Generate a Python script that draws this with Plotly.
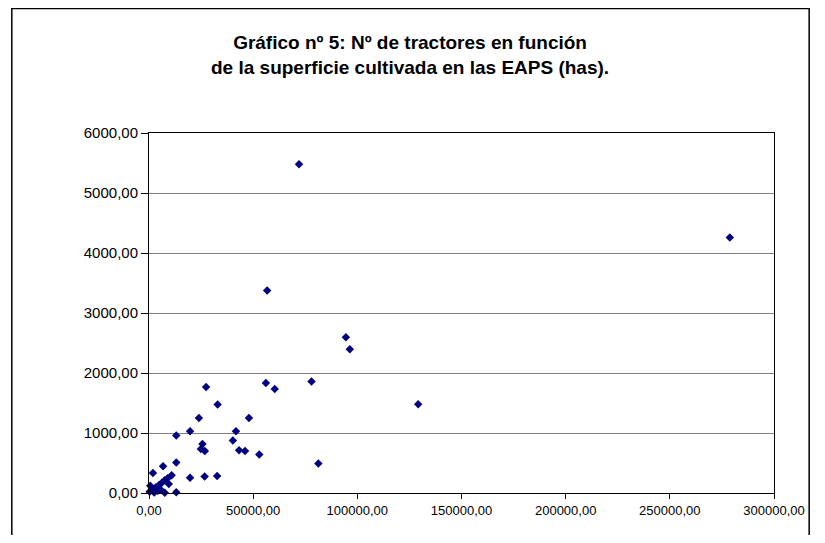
import plotly.graph_objects as go

# Superficie cultivada (has) vs Nº de tractores
superficie = [72000, 278800, 56700, 94500, 96400, 27400, 56100, 60350, 78000, 32950,
              129200, 23960, 47970, 19700, 41730, 13090, 40270, 25660, 24900, 26800,
              43240, 46080, 52930, 81290, 13090, 6760, 1890, 19710, 26700, 32700,
              10870, 8980, 7560, 6140, 4730, 3310, 1420, 300, 13090, 7560,
              4250, 600, 2500, 9500, 5500]
tractores = [5480, 4260, 3375, 2595, 2395, 1766, 1835, 1735, 1858, 1474,
             1480, 1249, 1249, 1029, 1029, 957, 874, 817, 734, 700,
             712, 700, 642, 490, 507, 445, 334, 254, 275, 285,
             295, 245, 212, 170, 128, 95, 53, 20, 12, 5,
             37, 120, 10, 150, 60]

x_ticks = [0, 50000, 100000, 150000, 200000, 250000, 300000]
x_tick_labels = ["0,00", "50000,00", "100000,00", "150000,00", "200000,00", "250000,00", "300000,00"]
y_ticks = [0, 1000, 2000, 3000, 4000, 5000, 6000]
y_tick_labels = ["0,00", "1000,00", "2000,00", "3000,00", "4000,00", "5000,00", "6000,00"]

title_text = "Gráfico nº 5: Nº de tractores en función<br>de la superficie cultivada en las EAPS (has)."

# The page body adds an 8px margin on every side; size the figure so the page fits the window.
OFF = 8
W, H = 825 - 2 * OFF, 543 - 2 * OFF
L, R, T, B = 149 - OFF, 780 - OFF, 133 - OFF, 493 - OFF

def px(x):
    return (x - OFF - L) / (R - L)

def py(y):
    return (B - (y - OFF)) / (B - T)

fig = go.Figure()
fig.add_trace(go.Scatter(
    x=superficie, y=tractores, mode="markers",
    marker=dict(symbol="diamond", size=6.5, color="#000080", line=dict(width=0)),
    cliponaxis=False, showlegend=False, hoverinfo="x+y",
))

font_family = "Liberation Sans, Arial, sans-serif"

fig.update_layout(
    width=W, height=H,
    margin=dict(l=L, r=W - R, t=T, b=H - B, pad=0),
    paper_bgcolor="white", plot_bgcolor="white",
    font=dict(family=font_family, size=15, color="black"),
    xaxis=dict(range=[0, 300000], tickvals=x_ticks, ticktext=x_tick_labels,
               showgrid=False, zeroline=False, showline=True, linecolor="black",
               linewidth=1, ticks="outside", ticklen=5, tickcolor="black",
               mirror=True, tickfont=dict(size=13, family=font_family)),
    yaxis=dict(range=[0, 6000], tickvals=y_ticks, ticktext=y_tick_labels,
               showgrid=True, gridcolor="#808080", gridwidth=1, zeroline=False,
               showline=True, linecolor="black", linewidth=1, ticks="outside",
               ticklen=7, tickcolor="black", mirror=True,
               tickfont=dict(size=15, family=font_family)),
    annotations=[dict(
        text="<b>" + title_text.replace("<br>", "</b><br><b>") + "</b>",
        xref="paper", yref="paper", x=px(413), y=py(55),
        xanchor="center", yanchor="middle", showarrow=False,
        font=dict(size=19, family=font_family, color="black"),
        align="center",
    )],
    shapes=[dict(type="rect", xref="paper", yref="paper",
                 x0=px(10.5), x1=px(815.5), y0=py(600), y1=py(8.5),
                 line=dict(color="black", width=1.5), fillcolor="rgba(0,0,0,0)",
                 layer="above")],
)

fig.write_html("out.html", config={"displayModeBar": False})
